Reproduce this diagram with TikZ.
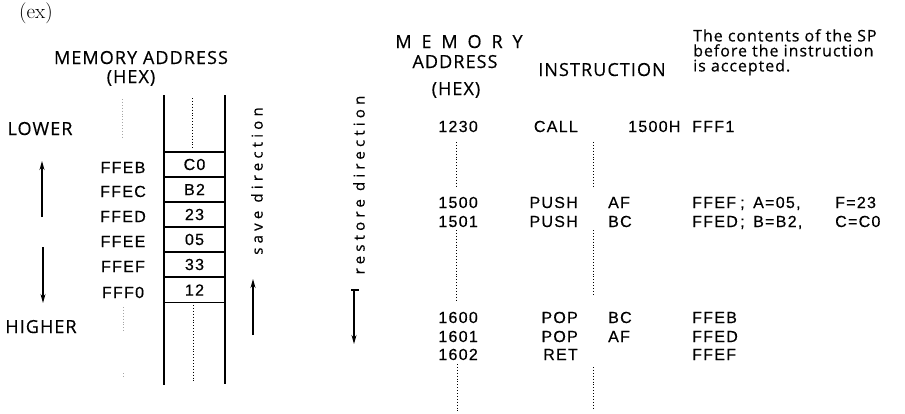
\documentclass[tikz,border=0pt]{standalone}
\usepackage{fontspec}
\usetikzlibrary{arrows.meta}
% headings, data and rotated labels
\newfontfamily\hdfont[LetterSpace=6,FakeBold=0.4]{Open Sans}
\newfontfamily\widefont[LetterSpace=55,FakeBold=0.4]{Open Sans}
\newfontfamily\datafont[LetterSpace=8,FakeBold=0.4]{Liberation Sans}
\newfontfamily\rotfont[LetterSpace=28,FakeBold=0.4]{Open Sans}
\newfontfamily\notefont[LetterSpace=6,FakeBold=0.4]{Open Sans}

\begin{document}
\begin{tikzpicture}[x=1pt,y=-1pt,
  hd/.style={font=\hdfont\fontsize{18}{18}\selectfont, inner sep=0pt},
  wide/.style={font=\widefont\fontsize{18}{18}\selectfont, inner sep=0pt},
  dt/.style={font=\datafont\fontsize{16}{16}\selectfont, inner sep=0pt},
  rot/.style={font=\rotfont\fontsize{15}{15}\selectfont, inner sep=0pt, rotate=90},
  note/.style={font=\notefont\fontsize{16}{15}\selectfont, inner sep=0pt, align=left},
  cell/.style={draw, line width=1.1pt, minimum width=61pt, minimum height=25pt,
               inner sep=0pt, font=\datafont\fontsize{16}{16}\selectfont},
  wall/.style={line width=1.4pt},
  dots/.style={line width=0.9pt, dash pattern=on 0.9pt off 2pt},
  faint/.style={dots, black!35},
  arr/.style={line width=1.2pt, -{Stealth[length=9pt,width=5pt]}}]

\fill[white] (0,0) rectangle (905,413);
\useasboundingbox (0,0) rectangle (905,413);

% ---------------- stack in memory ----------------
\node[font=\fontsize{21}{21}\selectfont, inner sep=0pt, anchor=base] (ex) at (36,18) {(ex)};

\node[hd, anchor=base] (memL) at (141,64) {MEMORY ADDRESS};
\node[hd, anchor=base] (hexL) at (131,83) {(HEX)};

\node[hd, anchor=base] (lower)  at (40,135) {LOWER};
\node[hd, anchor=base] (higher) at (41,333) {HIGHER};

% direction arrows beside LOWER / HIGHER
\coordinate (upS) at (42,217);  \coordinate (upE) at (42,161);
\coordinate (dnS) at (43,247);  \coordinate (dnE) at (43,303);
\draw[arr] (upS) -- (upE);
\draw[arr] (dnS) -- (dnE);

% address column guide
\coordinate (ga1) at (122,99);  \coordinate (ga2) at (122,138);
\coordinate (ga3) at (123,307); \coordinate (ga4) at (123,331);
\coordinate (ga5) at (123,373); \coordinate (ga6) at (123,377);
\draw[faint] (ga1) -- (ga2);
\draw[faint] (ga3) -- (ga4);
\draw[faint] (ga5) -- (ga6);

% addresses
\node[dt, anchor=base] (aB) at (123,173) {FFEB};
\node[dt, anchor=base] (aC) at (123,197) {FFEC};
\node[dt, anchor=base] (aD) at (123,222) {FFED};
\node[dt, anchor=base] (aE) at (123,247) {FFEE};
\node[dt, anchor=base] (aF) at (123,272) {FFEF};
\node[dt, anchor=base] (a0) at (123,298) {FFF0};

% stack walls
\coordinate (wLT) at (164,95);  \coordinate (wLB) at (164,385);
\coordinate (wRT) at (225,95);  \coordinate (wRB) at (225,384);
\draw[wall] (wLT) -- (wLB);
\draw[wall] (wRT) -- (wRB);

% stack cells
\node[cell] (c1) at (194.5,164.5) {C0};
\node[cell] (c2) at (194.5,189.5) {B2};
\node[cell] (c3) at (194.5,214.5) {23};
\node[cell] (c4) at (194.5,239.5) {05};
\node[cell] (c5) at (194.5,264.5) {33};
\node[cell] (c6) at (194.5,290)   {12};

% centre guide inside the stack
\coordinate (gs1) at (192,98);  \coordinate (gs2) at (192,150);
\coordinate (gs3) at (193,305); \coordinate (gs4) at (193,382);
\draw[dots] (gs1) -- (gs2);
\draw[dots] (gs3) -- (gs4);

% save direction
\node[rot] (save) at (257,181) {save direction};
\coordinate (svS) at (253,335); \coordinate (svE) at (253,279);
\draw[arr] (svS) -- (svE);

% restore direction
\node[rot] (restore) at (359,185) {restore direction};
\coordinate (rsS) at (354,290); \coordinate (rsE) at (354,344);
\coordinate (rsL) at (351,290); \coordinate (rsT) at (359,290);
\draw[line width=1.2pt] (rsL) -- (rsT);
\draw[arr] (rsS) -- (rsE);

% ---------------- program listing ----------------
\node[wide, anchor=base] (memR) at (459,48) {MEMORY};
\node[hd, anchor=base] (addrR) at (455,68) {ADDRESS};
\node[hd, anchor=base] (hexR)  at (456,95) {(HEX)};
\node[hd, anchor=base] (instr) at (602,76) {INSTRUCTION};
\node[note, anchor=north west] (spnote) at (693,29)
  {The contents of the SP\\before the instruction\\is accepted.};

% CALL
\node[dt, anchor=base east] (r1a) at (478,132) {1230};
\node[dt, anchor=base east] (r1m) at (578,132) {CALL};
\node[dt, anchor=base west] (r1o) at (628,132) {1500H};
\node[dt, anchor=base west] (r1s) at (692,132) {FFF1};

% PUSH
\node[dt, anchor=base east] (r2a) at (478,208) {1500};
\node[dt, anchor=base east] (r2m) at (578,208) {PUSH};
\node[dt, anchor=base west] (r2o) at (608,208) {AF};
\node[dt, anchor=base west] (r2s) at (692,208) {FFEF};
\node[dt, anchor=base west] (r2k) at (740,208) {;};
\node[dt, anchor=base west] (r2c) at (753,208) {A=05,};
\node[dt, anchor=base west] (r2d) at (835,208) {F=23};

\node[dt, anchor=base east] (r3a) at (478,227) {1501};
\node[dt, anchor=base east] (r3m) at (578,227) {PUSH};
\node[dt, anchor=base west] (r3o) at (608,227) {BC};
\node[dt, anchor=base west] (r3s) at (692,227) {FFED};
\node[dt, anchor=base west] (r3k) at (740,227) {;};
\node[dt, anchor=base west] (r3c) at (753,227) {B=B2,};
\node[dt, anchor=base west] (r3d) at (835,227) {C=C0};

% POP / RET
\node[dt, anchor=base east] (r4a) at (478,323) {1600};
\node[dt, anchor=base east] (r4m) at (578,323) {POP};
\node[dt, anchor=base west] (r4o) at (608,323) {BC};
\node[dt, anchor=base west] (r4s) at (692,323) {FFEB};

\node[dt, anchor=base east] (r5a) at (478,342) {1601};
\node[dt, anchor=base east] (r5m) at (578,342) {POP};
\node[dt, anchor=base west] (r5o) at (608,342) {AF};
\node[dt, anchor=base west] (r5s) at (692,342) {FFED};

\node[dt, anchor=base east] (r6a) at (478,360) {1602};
\node[dt, anchor=base east] (r6m) at (578,360) {RET};
\node[dt, anchor=base west] (r6s) at (692,360) {FFEF};

% omitted code, address column
\coordinate (da1) at (456,142); \coordinate (da2) at (456,187);
\coordinate (da3) at (456,230); \coordinate (da4) at (456,301);
\coordinate (da5) at (457,364); \coordinate (da6) at (457,413);
\draw[dots] (da1) -- (da2);
\draw[dots] (da3) -- (da4);
\draw[dots] (da5) -- (da6);

% omitted code, operand column
\coordinate (db1) at (593,142); \coordinate (db2) at (593,187);
\coordinate (db3) at (593,230); \coordinate (db4) at (593,295);
\coordinate (db5) at (593,367); \coordinate (db6) at (593,408);
\draw[dots] (db1) -- (db2);
\draw[dots] (db3) -- (db4);
\draw[dots] (db5) -- (db6);

\end{tikzpicture}
\end{document}
